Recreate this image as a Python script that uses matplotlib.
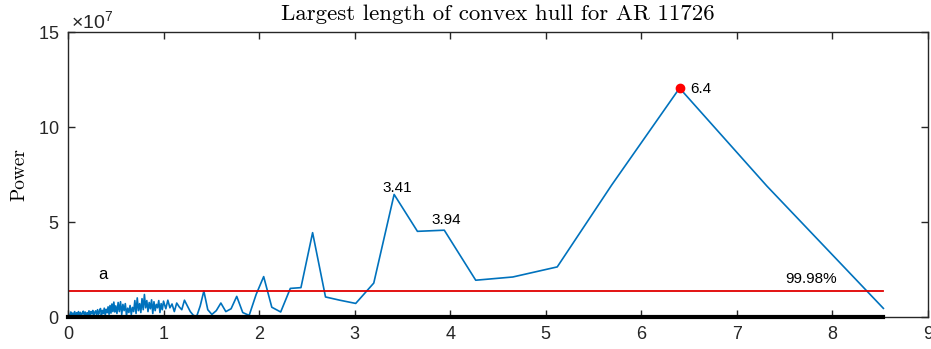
import matplotlib
matplotlib.use("Agg")
import matplotlib.pyplot as plt
from matplotlib.ticker import ScalarFormatter

plt.rcParams['font.family'] = ['Liberation Sans', 'DejaVu Sans']
plt.rcParams['mathtext.default'] = 'regular'

# period axis (x) and power (in units of 1e7)
period_low = [0.02, 0.03, 0.04, 0.05, 0.06, 0.07, 0.08, 0.09, 0.10, 0.11, 0.12, 0.13,
              0.14, 0.15, 0.16, 0.17, 0.18, 0.19, 0.20, 0.21, 0.22, 0.23, 0.24, 0.25,
              0.26, 0.27, 0.28, 0.29, 0.30, 0.31, 0.32, 0.33, 0.34, 0.35, 0.36, 0.37,
              0.38, 0.39, 0.40, 0.41, 0.42, 0.43, 0.44, 0.45, 0.46, 0.47, 0.48, 0.49]
power_low = [0.14, 0.28, 0.08, 0.22, 0.12, 0.30, 0.06, 0.24, 0.14, 0.30, 0.10, 0.26,
             0.06, 0.22, 0.32, 0.12, 0.28, 0.08, 0.24, 0.14, 0.34, 0.10, 0.30, 0.18,
             0.36, 0.08, 0.26, 0.34, 0.12, 0.40, 0.16, 0.32, 0.46, 0.10, 0.36, 0.20,
             0.48, 0.12, 0.42, 0.24, 0.55, 0.16, 0.62, 0.22, 0.70, 0.30, 0.80, 0.28]

period_mid = [0.5000, 0.5125, 0.5250, 0.5375, 0.5500, 0.5625, 0.5750, 0.5875, 0.6000,
              0.6125, 0.6250, 0.6375, 0.6500, 0.6625, 0.6750, 0.6875, 0.7000, 0.7125,
              0.7250, 0.7375, 0.7500, 0.7625, 0.7750, 0.7875, 0.8000, 0.8125, 0.8250,
              0.8375, 0.8500, 0.8625, 0.8750, 0.8875, 0.9000, 0.9125, 0.9250, 0.9375,
              0.9500, 0.9625, 0.9750, 0.9875, 1.0000]
power_mid = [0.60, 0.20, 0.78, 0.30, 0.82, 0.15, 0.68, 0.35, 0.72,
             0.10, 0.48, 0.25, 0.62, 0.15, 0.52, 0.30, 0.88, 0.20,
             1.02, 0.35, 0.72, 0.25, 0.98, 0.40, 1.20, 0.50, 0.88,
             0.30, 0.78, 0.45, 0.92, 0.20, 0.82, 0.35, 0.68, 0.50,
             0.88, 0.25, 0.72, 0.40, 0.85]

period_high = [1.024, 1.045, 1.067, 1.089, 1.113, 1.138, 1.164, 1.191, 1.219, 1.249,
               1.280, 1.313, 1.347, 1.384, 1.422, 1.463, 1.506, 1.552, 1.600, 1.652,
               1.707, 1.766, 1.829, 1.896, 1.969, 2.048, 2.133, 2.226, 2.327, 2.438,
               2.560, 2.695, 2.844, 3.011, 3.200, 3.413, 3.657, 3.938, 4.267, 4.655,
               5.120, 5.689, 6.400, 7.314, 8.533]
power_high = [0.45, 0.90, 0.50, 0.70, 0.30, 0.75, 0.55, 0.40, 0.90, 0.60,
              0.30, 0.10, 0.05, 0.60, 1.38, 0.40, 0.15, 0.35, 0.75, 0.30,
              0.45, 1.10, 0.25, 0.10, 1.20, 2.14, 0.53, 0.28, 1.52, 1.56,
              4.45, 1.07, 0.90, 0.73, 1.80, 6.46, 4.52, 4.58, 1.95, 2.12,
              2.65, 6.95, 12.05, 6.90, 0.47]

threshold = 1.37   # 99.98% level, 1e7
peak_period = 6.4
peak_power = 12.05
labels = ['3.41', '3.94', '6.4', '99.98%', 'a']

period = period_low + period_mid + period_high
power = [p * 1e7 for p in power_low + power_mid + power_high]

fig = plt.figure(figsize=(9.31, 3.49), dpi=100)
ax = fig.add_axes([0.0730, 0.0908, 0.9238, 0.8175])

ax.plot(period, power, color='#0072BD', lw=1.2)
ax.plot([0, period[-1]], [threshold * 1e7] * 2, color='#E00000', lw=1.3)
ax.plot([0, period[-1]], [0, 0], color='black', lw=3, clip_on=False, zorder=5)
ax.plot(peak_period, peak_power * 1e7, 'o', color='red', ms=6)

ax.text(3.45, 6.8e7, labels[0], ha='center', va='center', fontsize=11)
ax.text(3.96, 5.1e7, labels[1], ha='center', va='center', fontsize=11)
ax.text(6.51, 12.0e7, labels[2], ha='left', va='center', fontsize=11)
ax.text(7.78, 1.99e7, labels[3], ha='center', va='center', fontsize=11)
ax.text(0.366, 2.23e7, labels[4], ha='center', va='center', fontsize=12)

ax.set_xlim(0, 9)
ax.set_ylim(0, 15e7)
ax.set_xticks(range(0, 10))
ax.set_yticks([0, 5e7, 10e7, 15e7])
fmt = ScalarFormatter(useMathText=True)
fmt.set_powerlimits((7, 7))
ax.yaxis.set_major_formatter(fmt)
ax.yaxis.get_offset_text().set_fontsize(14)
ax.yaxis.get_offset_text().set_x(0.004)
ax.yaxis.get_offset_text().set_color('#262626')

ax.tick_params(direction='in', length=5, width=1, top=True, right=True,
               labelsize=13, colors='#262626', pad=6)
for s in ax.spines.values():
    s.set_color('#262626')
    s.set_linewidth(1)

ax.set_title('Largest length of convex hull for AR 11726', fontfamily='cmr10',
             fontsize=16.5, pad=9)
ax.set_ylabel('Power', fontfamily='cmr10', fontsize=14, labelpad=7)

fig.savefig('out.png', dpi=100)
